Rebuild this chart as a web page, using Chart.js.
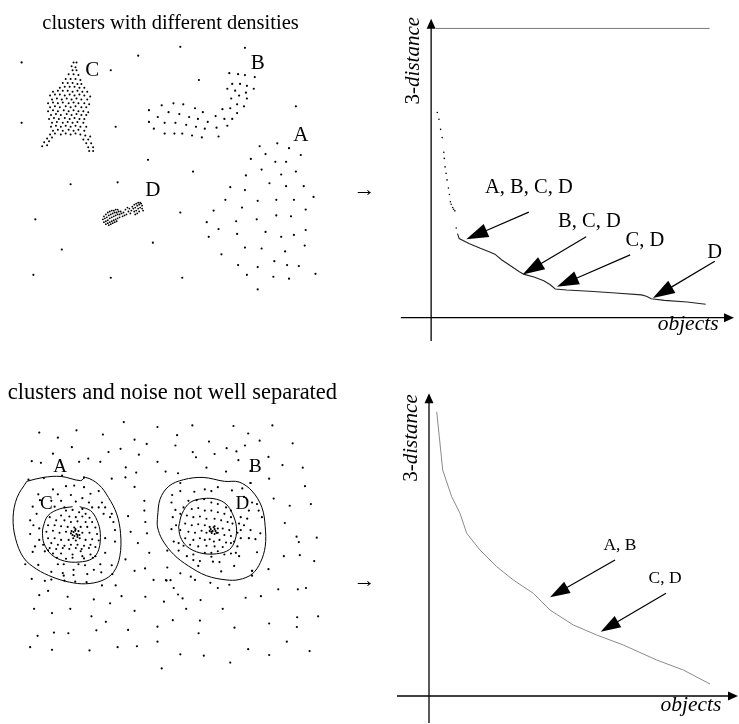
<!DOCTYPE html>
<html>
<head>
<meta charset="utf-8">
<script src="https://cdn.jsdelivr.net/npm/chart.js@4.4.1/dist/chart.umd.min.js"></script>
<style>
  html, body { margin: 0; padding: 0; background: #fff; }
  #wrap { position: relative; width: 739px; height: 724px; background: #fff; overflow: hidden; }
  canvas { position: absolute; }
</style>
</head>
<body>
<div id="wrap">
  <canvas id="tl" width="390" height="310" style="left:0;top:0"></canvas>
  <canvas id="tr" width="349" height="350" style="left:390px;top:0"></canvas>
  <canvas id="bl" width="390" height="330" style="left:0;top:370px"></canvas>
  <canvas id="br" width="349" height="344" style="left:390px;top:380px"></canvas>
</div>
<script>
// ---------------- TEXTS ----------------
const panelTitles = ['clusters with different densities', 'clusters and noise not well separated'];
const clusterNames = ['A', 'B', 'C', 'D'];
const topCurveLabels = ['A, B, C, D', 'B, C, D', 'C, D', 'D'];
const bottomCurveLabels = ['A, B', 'C, D'];
const yAxisName = ['3-', 'distance'];
const xAxisName = 'objects';

// ---------------- TOP-LEFT: clusters with different densities ----------------
const topNoise = [[18,60],[137,53],[180,44],[246,45],[109,68],[199,78],[18,122],[114,126],[298,105],
  [147,160],[193,172],[68,185],[116,183],[32,221],[180,214],[59,252],[152,245],[30,278],[109,281],[182,281]];
const topClusterA = [[261,146],[279,143],[291,148],[267,154],[303,155],[252,159],[277,162],[288,162],
  [263,170],[283,175],[298,172],[247,176],[271,184],[288,187],[306,187],[231,188],[246,191],
  [316,198],[226,201],[259,202],[278,201],[296,201],[243,209],[308,211],[214,212],
  [258,221],[278,217],[293,218],[237,223],[207,224],[219,231],[308,232],[267,234],[238,236],[296,237],[283,239],[209,239],
  [246,250],[263,251],[287,254],[307,248],[222,257],[276,264],[239,268],[259,270],[289,268],[301,269],
  [248,278],[275,280],[291,282],[318,277],[259,293]];
const topClusterB = [[230,71],[239,72],[246,73],[256,75],[233,82],[241,82],[248,84],[255,87],
  [228,87],[236,89],[247,91],[240,94],[232,97],[248,97],[238,103],[245,105],[231,107],[223,108],
  [238,112],[161,104],[173,102],[183,103],[195,107],[203,111],[148,109],[168,111],[179,113],[189,116],
  [216,115],[225,118],[233,118],[157,116],[198,118],[208,121],[148,121],[164,122],[175,122],[186,124],
  [196,126],[228,125],[153,128],[205,128],[217,127],[164,133],[174,133],[182,133],[192,135],[202,137],[219,136]];
const topClusterC = [[71,60],[74,60],[69,64],[73,65],[70,68],[74,68],[66,72],[71,72],[76,73],
  [63,77],[68,77],[73,77],[78,78],[60,81],[65,81],[70,81],[75,82],[79,82],
  [57,86],[62,85],[67,85],[72,85],[77,86],[82,86],
  [50,90],[55,89],[60,89],[65,89],[70,90],[75,89],[80,90],[85,90],
  [47,94],[52,93],[57,93],[62,94],[67,93],[72,94],[77,93],[82,94],[88,95],
  [49,98],[54,97],[59,98],[64,97],[69,98],[74,97],[79,98],[85,98],
  [45,102],[50,101],[55,102],[60,101],[66,102],[71,101],[76,102],[82,102],[87,103],
  [47,106],[52,105],[57,106],[63,105],[68,106],[73,105],[79,106],[84,106],
  [45,110],[50,109],[55,110],[61,109],[66,110],[71,109],[76,110],[81,110],[86,111],
  [48,114],[53,113],[58,114],[64,113],[69,114],[74,113],[79,114],[84,114],
  [46,118],[51,117],[56,118],[62,117],[67,118],[72,117],[77,118],[82,118],
  [49,122],[54,121],[60,122],[65,121],[70,122],[75,121],[81,122],
  [48,126],[53,125],[58,126],[63,125],[68,126],[73,125],[78,126],[84,126],
  [50,130],[55,129],[60,130],[66,129],[71,130],[76,129],[82,130],
  [47,134],[52,133],[58,134],[63,133],[68,134],[73,133],[78,134],[83,135],[88,136],
  [44,138],[49,137],[81,139],[86,139],[41,142],[46,141],[84,143],[89,143],
  [39,146],[44,145],[86,147],[91,147],[87,151],[91,151]];
const topClusterD = [[102,218],[104,216],[106,214],[108,213],[110,212],[112,212],[114,211],[116,211],
  [101,221],[103,220],[105,219],[107,217],[109,216],[111,215],[113,214],[115,214],[117,213],[119,213],
  [102,224],[104,223],[106,222],[108,220],[110,219],[112,218],[114,217],[116,216],[118,216],
  [104,226],[106,225],[108,224],[110,223],[112,222],[114,221],[116,220],[118,219],
  [107,227],[109,226],[111,225],[113,224],[115,223],
  [120,215],[122,214],[121,218],[123,217],[125,216],[127,213],[124,211],[126,209],[128,210],[130,212],
  [129,215],[131,208],[133,206],[135,205],[137,204],[139,204],[132,210],[134,209],[136,207],[138,206],
  [140,205],[141,207],[133,213],[135,212],[137,210],[139,209],[141,210],[142,212],[138,213],[136,215],[134,216]];

// ---------------- TOP-RIGHT: sorted 3-distance (objects, 3-distance) ----------------
const topCeiling = [[5,296],[285,296]];
const topSteep = [[6.3,210],[8,203],[9.7,192.7],[11.3,184.3],[13,169.3],[13.5,163],[14.3,154.3],[15.3,147.7],
  [16.3,141],[17.7,132.7],[18.7,126],[19.7,118.7],[20.5,116],[22,112.7],[23,111],[24.3,109.3],[25.7,91.7]];
const topCurve = [[27,86],[28.7,81],[38.7,76],[50.3,71],[58.7,67.7],[65.3,65],[72,59.3],[82,52.7],[90.3,47],
  [95.3,44.3],[105.3,41.7],[115.3,37.7],[122,33.7],[127,29.3],[138.7,28.3],[162,27],[188.7,25.3],
  [215.3,23.3],[220.3,22],[225.3,19.3],[238.7,17.7],[262,16],[281,13.7]];

// ---------------- BOTTOM-LEFT: clusters and noise not well separated ----------------
const botNoise = [[122.3,419.3],[156.7,424.3],[192.3,422.7],[234.3,423.3],[274,422.7],
  [36,430],[74,427.7],[101,432],[133.3,437.3],[176.7,432.7],[209.3,439.3],[249.3,431],
  [55,435.3],[145.7,441.7],[175,443.3],[192.7,450],[227.3,446],[246,443.3],[261,438.3],[294.7,441],
  [69.3,445],[106.7,450],[119,446.7],[137.7,452.7],[215,452],[237.3,449.3],
  [50,451.7],[86,456.7],[98.3,460],[124.3,465.7],[156.7,460],[196,455.3],[239.3,458.3],[270,455],[284.3,463.3],[305,466],
  [28.3,459.3],[37.7,461],[76.7,460],[177.7,471.7],[165,470],[206.7,466],[226.7,470],[251.7,469.3],
  [135,471],[124,476],[110,477.3],[270.7,477.3],[307.3,485],[251.7,481.7],
  [133.3,485.7],[143.3,500],[126.7,515.7],[143.3,510],[144.3,521.7],[129.3,531.7],[146,533.3],[136.7,543.3],
  [124,560],[133.3,571.7],[144,569.3],[148.3,553.3],
  [275.3,497.7],[291.7,505],[313.3,503.3],[286.7,522.7],[298.7,536.7],[301,542.3],[319.3,537.7],[302,555.7],
  [285.7,556.7],[316.7,561.7],[270,570],[253.3,571.7],
  [28.3,580],[41.7,582],[100,586.7],[114,586.7],[152.7,581],[165.3,581.3],[170,581.3],[195,581],[218.3,589.3],
  [230,586],[246.7,599.3],[262.3,597.7],[280,590.7],[300,590.7],[308.3,589.3],
  [36,596.7],[45,592.3],[65,598.3],[91.7,601],[108.3,605],[120,597.7],[144.3,598.3],[163.3,603.3],[182.3,600],[173.3,589.3],
  [30.7,610.7],[49,615],[67.7,610.7],[89.3,618.3],[104,624],[133.3,612.7],[186,610.7],[223.3,610.7],[172.3,622.3],
  [200,622.7],[270.7,625.7],[299.3,619.3],[320.7,618.3],
  [34.3,638.3],[51,635],[65.7,635.7],[94.3,632.7],[126.7,632.3],[156.7,629],[198.7,635.7],[235.3,630],[299,629.3],
  [26.7,650],[49,652.7],[87.3,653.3],[116,650],[135.7,649],[156.7,644.3],[180,657.3],[204,658.7],[249.3,652],
  [270.7,658],[288.7,644.3],[312,654],[161,671.7],[231,665.7]];
const botRingA = [[25,478.3],[40.7,476.7],[59.3,474],[81.7,476],[50,488.3],[63.3,485],[71.7,484.3],[81.7,486],
  [96.7,490],[55,493.3],[68.3,494],[80,497.3],[88.3,492.7],[35,493.3],[58.3,500],[36.7,499.3],[48.3,500],
  [73.3,500.7],[86.7,501.7],[100,501.7],[96.7,506.7],[103.3,506.7],[29.3,506],[51.7,506],[61.7,506.7],
  [80,508.3],[90,506.7],[101.7,513.3],[108.3,516.7],[111.7,521.7],[110,513.3],[26.7,520],[33.3,513.3],
  [30,525],[36,528.3],[113.3,530],[26.7,534],[103.3,538.3],[113.3,541.7],[36,540],[40,545],[31.7,546.7],
  [29.3,552.3],[41.7,551.7],[21.7,565],[35,565.7],[48.3,572.7],[60,574],[48.3,580.7],[61.7,581.7],
  [72.7,582.7],[84.3,583.3],[85,575],[91.7,570.7],[98.3,565],[110,566],[110.7,575],[99.3,573.3],
  [103.3,553.3],[93.3,556.7],[55,565],[61,565],[71,570.7],[71,576],[61,576.7],[82.7,566],[76,565]];
const botCoreC = [[63.3,510],[70,509.3],[76.7,511.7],[83.3,513.3],[58.3,515],[66.7,516],[73.3,516.7],[80,516],
  [87.3,517.3],[46.7,516.7],[53.3,520],[61.7,520],[68.3,521.7],[75,521],[83.3,521.7],[90,521.7],[45,525],
  [51.7,525],[58.3,526],[65,526.7],[71.7,527.3],[78.3,526.7],[85,526.7],[93.3,527.3],[43.3,531.7],[50,530.7],
  [56.7,532.7],[63.3,531.7],[68.3,533.3],[72.7,530.7],[75,535],[80,532.7],[87.3,532.7],[95,534],[45,538.3],
  [51.7,538.3],[58.3,540],[66,540],[70.7,538.3],[73.3,540.7],[77.3,538.3],[83.3,540],[90,539.3],[96.7,540.7],
  [48.3,543.3],[55,545],[61.7,546],[68.3,545],[75,545],[81.7,546],[88.3,545],[46.7,548.3],[53.3,549.3],
  [60,548.3],[66.7,549.3],[73.3,548.3],[79.3,549.3],[86.7,548.3],[93.3,547.3],
  [45,550.7],[50,554],[58.3,554],[70,555],[70,558.3],[78.3,551.7],[80,556.7],[88.3,555],[81.7,559],
  [63.3,559.3],[54,558.3],[90.7,558.3],
  [71,532],[74,534],[72,536],[76,531],[70,535],[73,529],[75,537],[69,531],[77,535]];
const botRingB = [[180,481.7],[171.7,494],[180,490],[194.3,490.7],[205,488.3],[211.7,490],[218.3,486],
  [232.7,489.3],[243.3,487.3],[251.7,481.7],[171,501.7],[175,509.3],[172.3,516.7],[171,529],[175.7,525],
  [245,496],[253.3,501.7],[258.3,503.3],[260,510],[263.3,516.7],[250,510],[248.3,518.3],[241.7,516.7],
  [240,523.3],[245,525],[241.7,530],[238.3,532.7],[241.7,538.3],[250,538.3],[256.7,539.3],[261.7,533.3],
  [251.7,530],[173.3,541.7],[178.3,543.3],[235,541.7],[238.3,546.7],
  [166.7,551],[178.3,551],[186.7,556.7],[193.3,555],[193.3,560.7],[200,561.7],[198.3,566.7],[211.7,557.3],
  [213.3,562.3],[220,562.7],[221.7,572.3],[235,566.7],[236.7,553.3],[240,556.7],[258.3,552.7],[253.3,571.7],
  [253.3,576.7],[210.7,584],[190.7,577.7],[180,574.3],[166.7,568.3],[166,581.7],[177.7,596],[200.7,601.7]];
const botCoreD = [[188.3,500],[196.7,499.3],[204.3,498.3],[211.7,501.7],[218.3,503.3],[226.7,506.7],[231.7,510],
  [183.3,506.7],[191.7,508.3],[198.3,507.3],[205,510],[211.7,510],[218.3,511.7],[225,513.3],[231.7,516.7],
  [180,513.3],[186.7,515],[193.3,516.7],[200,516],[206.7,518.3],[215,518.3],[221.7,520],[228.3,521.7],
  [233.3,523.3],[185,523.3],[191.7,525],[198.3,524],[205,525],[210,526.7],[215,526],[218.3,528.3],[223.3,528.3],
  [230,530],[180,530],[188.3,531.7],[195,532.7],[201.7,530.7],[206.7,532.7],[211.7,531.7],[215,534],[218.3,532.7],
  [225,535],[231.7,536],[185,538.3],[193.3,540],[200,538.3],[205,540],[210,539.3],[214.3,541.7],[220,540],
  [226.7,542.7],[231.7,543.3],[190,545],[198.3,546.7],[206.7,546],[215,546.7],[223.3,547.3],[183.3,546],
  [211,529],[213,531],[215,529],[212,533],[216,531],[210,531],[214,527],[217,533],
  [205,553.3],[211.7,553.3],[218.3,551.7],[225,555],[231.7,554]];
const contourA = [[23.3,480],[40,476],[58.3,475],[78.3,479.3],[83.3,476],[96.7,483.3],[106.7,496.7],[115,513.3],
  [119,533.3],[118.3,556.7],[111.7,573.3],[100,581.7],[83.3,585],[66.7,583.3],[50,578.3],[33.3,570],[20,558.3],
  [11.7,538.3],[9.3,516.7],[13.3,496.7],[23.3,480]];
const contourC = [[77.3,506],[88.3,510],[95,520],[98.3,533.3],[96.7,550],[90,559.3],[76.7,562.7],[61.7,561.7],
  [48.3,555],[40.7,543.3],[39.3,533.3],[40,526.7],[45,515],[56.7,508.3],[70,506]];
const contourB = [[156.7,516.7],[159.3,498.3],[168.3,485],[183.3,478.3],[203.3,476],[225,480],[240,480.7],
  [253.3,490],[263.3,506.7],[266.7,526.7],[266.7,546.7],[261.7,563.3],[253.3,575],[240,580.7],[226.7,581],
  [206.7,576.7],[188.3,566.7],[173.3,555],[161.7,540],[156.7,526.7],[156.7,516.7]];
const contourD = [[178.3,526.7],[181.7,513.3],[190,501.7],[203.3,497.7],[216.7,498.3],[226.7,503.3],[233.3,513.3],
  [237.3,526.7],[236,540],[230,550],[216.7,554.3],[200,553.3],[186.7,546.7],[180,536.7],[178.3,526.7]];

// ---------------- BOTTOM-RIGHT: sorted 3-distance ----------------
const botCurve = [[7.7,284.3],[10.3,259.3],[13.7,226],[22.7,199.3],[31,182.7],[37.7,162.7],[51,146],[67.7,129.3],
  [84.3,116],[104.3,102.7],[121,86],[144.3,71],[167.7,61],[194.3,51],[227.7,36],[254.3,26],[281,12]];

// ---------------- rendering helpers ----------------
const SERIF = '"Liberation Serif", "Times New Roman", serif';
const pts = a => a.map(([x, y]) => ({x, y}));

const annotPlugin = {
  id: 'annot',
  afterDatasetsDraw(chart, args, o) {
    const ctx = chart.ctx, X = v => chart.scales.x.getPixelForValue(v), Y = v => chart.scales.y.getPixelForValue(v);
    ctx.save();
    ctx.fillStyle = '#000'; ctx.strokeStyle = '#000';
    const arrow = (x0, y0, x1, y1, len, half, lw) => {
      const ax = X(x0), ay = Y(y0), bx = X(x1), by = Y(y1);
      const d = Math.hypot(bx - ax, by - ay), ux = (bx - ax) / d, uy = (by - ay) / d;
      const cx = bx - ux * len, cy = by - uy * len;
      ctx.lineWidth = lw;
      ctx.beginPath(); ctx.moveTo(ax, ay); ctx.lineTo(cx + ux * 2, cy + uy * 2); ctx.stroke();
      ctx.beginPath(); ctx.moveTo(bx, by);
      ctx.lineTo(cx - uy * half, cy + ux * half); ctx.lineTo(cx + uy * half, cy - ux * half);
      ctx.closePath(); ctx.fill();
    };
    (o.arrows || []).forEach(a => arrow(a.from[0], a.from[1], a.to[0], a.to[1], a.len, a.half, a.lw));
    (o.texts || []).forEach(t => {
      ctx.save();
      ctx.translate(X(t.at[0]), Y(t.at[1]));
      if (t.rotate) ctx.rotate(t.rotate);
      ctx.textBaseline = 'middle';
      const parts = t.parts || [[t.text, 'normal']];
      let total = 0;
      parts.forEach(p => { ctx.font = `${p[1]} ${t.size}px ${SERIF}`; total += ctx.measureText(p[0]).width; });
      let x = -total / 2;
      ctx.textAlign = 'left';
      parts.forEach(p => { ctx.font = `${p[1]} ${t.size}px ${SERIF}`; ctx.fillText(p[0], x, 0); x += ctx.measureText(p[0]).width; });
      ctx.restore();
    });
    ctx.restore();
  }
};

function makeChart(id, datasets, xr, yr, annot) {
  return new Chart(document.getElementById(id), {
    type: 'scatter',
    data: { datasets },
    options: {
      responsive: false, animation: false, events: [], devicePixelRatio: 1,
      layout: { padding: 0 },
      plugins: { legend: { display: false }, tooltip: { enabled: false }, title: { display: false }, annot },
      scales: {
        x: { type: 'linear', min: xr[0], max: xr[1], display: false },
        y: { type: 'linear', min: yr[0], max: yr[1], reverse: !!yr[2], display: false }
      }
    },
    plugins: [annotPlugin]
  });
}
const dots = (arr, r) => ({ data: pts(arr), showLine: false, pointRadius: r, pointBackgroundColor: '#000', pointBorderWidth: 0, clip: false });
const curve = (arr, color, w, tension) => ({ data: pts(arr), showLine: true, borderColor: color, borderWidth: w, pointRadius: 0, tension: tension || 0, fill: false, clip: false });

// axis arrows for the distance plots (in data units)
const axisArrows = (yTop, yBot, xLeft, xRight) => [
  { from: [0, yBot], to: [0, yTop], len: 10, half: 4.5, lw: 1.3 },
  { from: [xLeft, 0], to: [xRight, 0], len: 10, half: 4.5, lw: 1.3 }
];

// Top-left
makeChart('tl', [
  dots(topNoise, 1.1), dots(topClusterA, 1.1), dots(topClusterB, 1.1), dots(topClusterC, 1.0), dots(topClusterD, 0.9)
], [0, 390], [0, 310, true], {
  texts: [
    { text: panelTitles[0], at: [170, 20], size: 20.5 },
    { text: clusterNames[2], at: [90, 68], size: 21 },
    { text: clusterNames[1], at: [259, 61], size: 21 },
    { text: clusterNames[0], at: [303, 135], size: 21 },
    { text: clusterNames[3], at: [152, 191], size: 21 },
    { text: '\u2192', at: [368, 191], size: 22 }
  ]
});

// Top-right
makeChart('tr', [
  curve(topCeiling, '#777', 1),
  dots(topSteep, 0.8),
  curve(topCurve, '#222', 1.1)
], [-38, 311], [-29, 321], {
  arrows: axisArrows(306, -24, -31, 310).concat([
    { from: [100, 108], to: [36, 80.3], len: 22, half: 7, lw: 1.2 },
    { from: [158.7, 82.7], to: [93.7, 44.3], len: 22, half: 7, lw: 1.2 },
    { from: [203.7, 64.3], to: [128.7, 31.7], len: 22, half: 7, lw: 1.2 },
    { from: [290.3, 57.7], to: [227, 20], len: 22, half: 7, lw: 1.2 }
  ]),
  texts: [
    { parts: [[yAxisName[0], 'normal'], [yAxisName[1], 'italic']], at: [-18, 263], size: 21, rotate: -Math.PI / 2 },
    { parts: [[xAxisName, 'italic']], at: [263, -7], size: 21.5 },
    { text: topCurveLabels[0], at: [100, 133], size: 20.5 },
    { text: topCurveLabels[1], at: [162, 98], size: 20.5 },
    { text: topCurveLabels[2], at: [218.7, 79.3], size: 20.5 },
    { text: topCurveLabels[3], at: [290.3, 67], size: 20.5 }
  ]
});

// Bottom-left
makeChart('bl', [
  curve(contourA, '#000', 1, 0.35), curve(contourC, '#000', 1, 0.35),
  curve(contourB, '#000', 1, 0.35), curve(contourD, '#000', 1, 0.35),
  dots(botNoise, 1.1), dots(botRingA, 1.1), dots(botCoreC, 1.05), dots(botRingB, 1.1), dots(botCoreD, 1.05)
], [0, 390], [370, 700, true], {
  texts: [
    { text: panelTitles[1], at: [172, 390], size: 22.5 },
    { text: clusterNames[0], at: [57.3, 465], size: 19 },
    { text: clusterNames[2], at: [43.3, 503.3], size: 19 },
    { text: clusterNames[1], at: [256.7, 465], size: 19 },
    { text: clusterNames[3], at: [243.3, 503.3], size: 19 },
    { text: '\u2192', at: [368, 582], size: 22 }
  ]
});

// Bottom-right
makeChart('br', [
  curve(botCurve, '#8a8a8a', 1)
], [-39, 310], [-28, 316], {
  arrows: axisArrows(302.7, -27, -32, 309).concat([
    { from: [186, 136], to: [121, 98.7], len: 20, half: 6.5, lw: 1.2 },
    { from: [237, 102.7], to: [171.7, 64.3], len: 20, half: 6.5, lw: 1.2 }
  ]),
  texts: [
    { parts: [[yAxisName[0], 'normal'], [yAxisName[1], 'italic']], at: [-17.3, 258], size: 21, rotate: -Math.PI / 2 },
    { parts: [[xAxisName, 'italic']], at: [262, -9], size: 21.5 },
    { text: bottomCurveLabels[0], at: [191, 151], size: 17.5 },
    { text: bottomCurveLabels[1], at: [236, 118], size: 17.5 }
  ]
});
</script>
</body>
</html>
